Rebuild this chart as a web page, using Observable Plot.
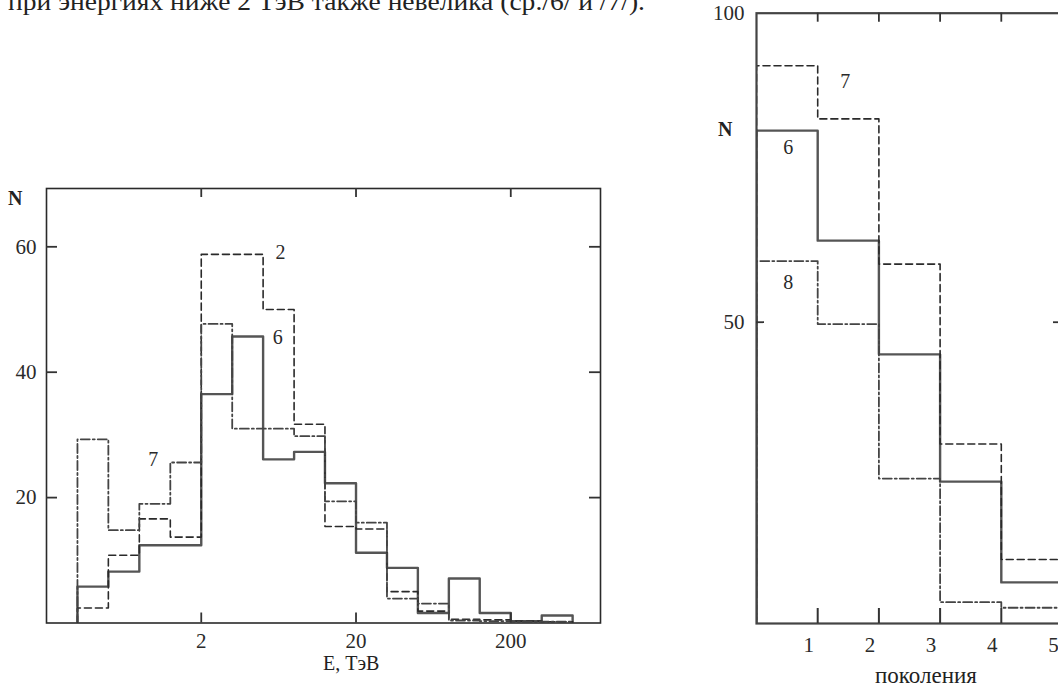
<!DOCTYPE html>
<html><head><meta charset="utf-8">
<script src="https://cdn.jsdelivr.net/npm/d3@7"></script>
<script src="https://cdn.jsdelivr.net/npm/@observablehq/plot@0.6"></script>
<style>
html,body{margin:0;padding:0;background:#fff;overflow:hidden;}
#wrap{position:relative;width:1058px;height:688px;overflow:hidden;font-family:"Liberation Serif",serif;color:#222;background:#fff}
.chart{position:absolute;top:0}
.lbl{position:absolute;white-space:nowrap;line-height:1;font-family:"Liberation Serif",serif;color:#222}
</style></head><body>
<div id="wrap">
  <svg class="lbl" style="left:0;top:0" width="700" height="20"><text id="topline" x="8" y="10" font-size="25" font-family="Liberation Serif" fill="#222" textLength="637" lengthAdjust="spacingAndGlyphs">при энергиях ниже 2 ТэВ также невелика (ср./6/ и /7/).</text></svg>
  <div class="lbl" style="left:8px;top:188px;font-size:20px;font-weight:bold">N</div>
  <div class="lbl" style="left:323px;top:653px;font-size:20px">E, ТэВ</div>
  <div class="lbl" style="left:718px;top:119px;font-size:20px;font-weight:bold">N</div>
  <div class="lbl" style="left:875px;top:664px;font-size:23px">поколения</div>
</div>
<script>
// ---- Left panel: energy spectrum, bins of 0.2 decade ----
const energyEdges = [0.317, 0.502, 0.796, 1.262, 2, 3.17, 5.02, 7.96, 12.6, 20, 31.7, 50.2, 79.6, 126, 200, 317, 502];
const spec2 = [2.4, 10.8, 16.6, 13.7, 58.8, 58.8, 50.0, 31.7, 15.4, 15.0, 5.0, 1.9, 0.6, 0.5, 0.3, 0.2];   // dashed
const spec6 = [5.8, 8.2, 12.4, 12.4, 36.5, 45.7, 26.1, 27.3, 22.3, 11.2, 8.8, 1.6, 7.1, 1.6, 0.3, 1.2];    // solid
const spec7 = [29.3, 14.8, 19.0, 25.6, 47.7, 31.0, 31.0, 29.8, 19.4, 16.0, 3.9, 3.1, 0.4, 0.3, 0.2, 0.2]; // dash-dot
const energyTicks = [2, 20, 200];
const countTicksL = [20, 40, 60];
const labelsL = [{t: "2", x: 6.5, y: 59}, {t: "6", x: 6.25, y: 45.5}, {t: "7", x: 0.98, y: 26}];

// ---- Right panel: generations ----
const genEdges = [0, 1, 2, 3, 4, 5];
const gen7 = [91.5, 82.9, 59.4, 30.3, 11.6]; // dashed
const gen6 = [81.0, 63.2, 44.8, 24.2, 7.9];  // solid
const gen8 = [59.9, 49.7, 24.7, 4.7, 3.8];   // dash-dot
const genTicks = [1, 2, 3, 4];
const genLabels = [1, 2, 3, 4, 5];
const countTicksR = [50, 100];
const labelsR = [{t: "7", x: 1.45, y: 89}, {t: "6", x: 0.52, y: 78.3}, {t: "8", x: 0.52, y: 56.4}];

function steps(edges, values, close) {
  const pts = [{x: edges[0], y: 0}];
  values.forEach((v, i) => pts.push({x: edges[i], y: v}));
  pts.push({x: edges[values.length], y: values[values.length - 1]});
  if (close) pts.push({x: edges[values.length], y: 0});
  return pts;
}

const DASH = "7,4";
const DASHDOT = "9,3,2,3";
const ink = "#2a2a2a";
const tickInk = "#333";
const font = {fontFamily: "Liberation Serif", fontSize: "20px", color: ink, background: "transparent", overflow: "visible"};

// left panel geometry
const LW = 620, LH = 688, LmL = 46, LmR = 20, LmT = 188, LmB = 65.5;
const LiW = LW - LmL - LmR, LiH = LH - LmT - LmB;

const L = Plot.plot({
  width: LW, height: LH,
  marginLeft: LmL, marginRight: LmR, marginTop: LmT, marginBottom: LmB,
  x: {type: "log", domain: [0.2, 760]},
  y: {domain: [0, 69.3]},
  style: font,
  marks: [
    Plot.axisY({ticks: countTicksL, tickSize: 0, tickPadding: 10, label: null, fontSize: 21, tickFormat: d => String(d)}),
    Plot.axisX({ticks: energyTicks, tickSize: 0, tickPadding: 10, label: null, fontSize: 21, tickFormat: d => String(d)}),
    Plot.line(steps(energyEdges, spec6, true), {x: "x", y: "y", curve: "step-after", stroke: "#555", strokeWidth: 2.4, clip: true}),
    Plot.line(steps(energyEdges, spec2, true), {x: "x", y: "y", curve: "step-after", stroke: ink, strokeWidth: 1.6, strokeDasharray: DASH, clip: true}),
    Plot.line(steps(energyEdges, spec7, true), {x: "x", y: "y", curve: "step-after", stroke: "#444", strokeWidth: 1.8, strokeDasharray: DASHDOT, clip: true}),
    Plot.frame({stroke: ink, strokeWidth: 1.6}),
    // inward tick marks
    Plot.ruleY(countTicksL, {y: d => d, insetRight: LiW - 11, stroke: tickInk, strokeWidth: 1.8}),
    Plot.ruleY(countTicksL, {y: d => d, insetLeft: LiW - 11, stroke: tickInk, strokeWidth: 1.8}),
    Plot.ruleX(energyTicks, {x: d => d, insetBottom: LiH - 9, stroke: tickInk, strokeWidth: 1.8}),
    Plot.ruleX(energyTicks, {x: d => d, insetTop: LiH - 10, stroke: tickInk, strokeWidth: 1.8}),
    Plot.text(labelsL, {x: "x", y: "y", text: "t", fontSize: 20, fill: ink})
  ]
});
L.classList.add("chart");
L.style.left = "0px";

// right panel geometry
const RW = 420, RH = 688, RmL = 76, RmR = 38, RmT = 12.7, RmB = 65;
const RiW = RW - RmL - RmR, RiH = RH - RmT - RmB;

const R = Plot.plot({
  width: RW, height: RH,
  marginLeft: RmL, marginRight: RmR, marginTop: RmT, marginBottom: RmB,
  x: {domain: [0, 5]},
  y: {domain: [1.25, 100]},
  style: font,
  marks: [
    Plot.axisY({ticks: countTicksR, tickSize: 0, tickPadding: 12, label: null, fontSize: 21, tickFormat: d => String(d)}),
    Plot.axisX({ticks: genLabels, tickSize: 0, tickPadding: 14, dx: -9, label: null, fontSize: 21, tickFormat: d => String(d)}),
    Plot.line(steps(genEdges, gen6, false), {x: "x", y: "y", curve: "step-after", stroke: "#555", strokeWidth: 2.4, clip: true}),
    Plot.line(steps(genEdges, gen7, false), {x: "x", y: "y", curve: "step-after", stroke: ink, strokeWidth: 1.6, strokeDasharray: DASH, clip: true}),
    Plot.line(steps(genEdges, gen8, false), {x: "x", y: "y", curve: "step-after", stroke: "#444", strokeWidth: 1.8, strokeDasharray: DASHDOT, clip: true}),
    Plot.frame({stroke: "#444", strokeWidth: 2.2}),
    Plot.ruleY([50], {y: d => d, insetRight: RiW - 8, stroke: tickInk, strokeWidth: 1.8}),
    Plot.ruleY([50], {y: d => d, insetLeft: RiW - 9, stroke: tickInk, strokeWidth: 1.8}),
    Plot.ruleX(genTicks, {x: d => d, insetBottom: RiH - 9, stroke: tickInk, strokeWidth: 1.8}),
    Plot.ruleX(genTicks, {x: d => d, insetTop: RiH - 15, stroke: tickInk, strokeWidth: 2}),
    Plot.text(labelsR, {x: "x", y: "y", text: "t", fontSize: 20, fill: ink})
  ]
});
R.classList.add("chart");
R.style.left = "680px";

const wrap = document.getElementById("wrap");
wrap.appendChild(L);
wrap.appendChild(R);
</script>
</body></html>
